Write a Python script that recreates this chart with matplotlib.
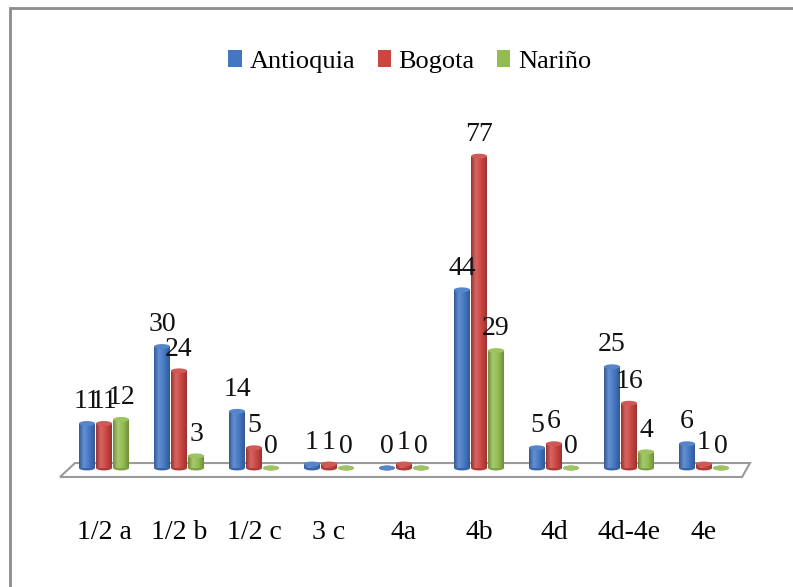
import numpy as np
import matplotlib.pyplot as plt
from matplotlib.colors import LinearSegmentedColormap, to_rgb
from matplotlib.patches import Ellipse, Polygon, Patch, Rectangle

categories = ["1/2 a", "1/2 b", "1/2 c", "3 c", "4a", "4b", "4d", "4d-4e", "4e"]
antioquia = [11, 30, 14, 1, 0, 44, 5, 25, 6]
bogota = [11, 24, 5, 1, 1, 77, 6, 16, 1]
narino = [12, 3, 0, 0, 0, 29, 0, 4, 0]
series_names = ["Antioquia", "Bogota", "Nariño"]
series_colors = ["#4377c4", "#cc4541", "#93bd50"]

plt.rcParams['font.family'] = ['Liberation Serif', 'DejaVu Serif']


def shade(color, f):
    c = np.array(to_rgb(color))
    if f >= 0:
        return tuple(c + (1 - c) * f)
    return tuple(c * (1 + f))


def cylinder(ax, x, h, w, color, z):
    # vertical column with a side-lit gradient and elliptic caps
    cmap = LinearSegmentedColormap.from_list(
        "cyl", [(0, shade(color, -0.25)), (0.3, shade(color, 0.18)),
                (0.65, color), (1, shade(color, -0.25))])
    grad = np.linspace(0, 1, 64).reshape(1, -1)
    ax.add_patch(Ellipse((x, 0), w, 1.2, facecolor=shade(color, -0.15),
                         edgecolor='none', zorder=z - 0.1))
    if h > 0:
        ax.imshow(grad, cmap=cmap, extent=[x - w / 2, x + w / 2, 0, h],
                  aspect='auto', interpolation='bilinear', zorder=z)
    ax.add_patch(Ellipse((x, h), w, 1.2, facecolor=shade(color, 0.1),
                         edgecolor='none', zorder=z + 0.1))


fig = plt.figure(figsize=(7.93, 5.87), dpi=100)
ax = fig.add_axes([0.0366, 0.182, 0.9458, 0.5727])

# floor of the chart
floor = Polygon([(-0.387, 1.23), (-0.587, -2.22), (8.507, -2.22), (8.613, 1.23)],
                closed=True, facecolor='white', edgecolor='#9a9a9a', lw=1.5, zorder=1)
ax.add_patch(floor)

width = 0.213
offsets = [-0.227, 0, 0.227]
x = np.arange(len(categories))
for k, (vals, color) in enumerate(zip([antioquia, bogota, narino], series_colors)):
    for i, v in enumerate(vals):
        xi = x[i] + offsets[k]
        cylinder(ax, xi, v, width, color, 3 + k)
        ax.annotate(str(v), (xi, v), xytext=(0, 11), textcoords='offset points',
                    ha='center', va='baseline', fontsize=20, color='#111111', zorder=10)

ax.set_xlim(-1, 9)
ax.set_ylim(-3, 80)
ax.set_xticks(x, categories, fontsize=20)
ax.set_yticks([])
ax.tick_params(axis='x', length=0, pad=29)
for s in ax.spines.values():
    s.set_visible(False)
ax.patch.set_alpha(0)

handles = [Patch(facecolor=c, label=n) for n, c in zip(series_names, series_colors)]
fig.legend(handles=handles, loc='center', bbox_to_anchor=(0.517, 0.895), ncol=3,
           frameon=False, fontsize=19, handlelength=0.5, handleheight=0.6,
           handletextpad=0.3, columnspacing=0.85)

# outer chart frame
fig.add_artist(Rectangle((9.5 / 793, -0.05), 1.0, 1 - 8 / 587 + 0.05, transform=fig.transFigure,
                         fill=False, edgecolor='#8c8c8c', lw=2))

fig.savefig("out.png", dpi=100)
